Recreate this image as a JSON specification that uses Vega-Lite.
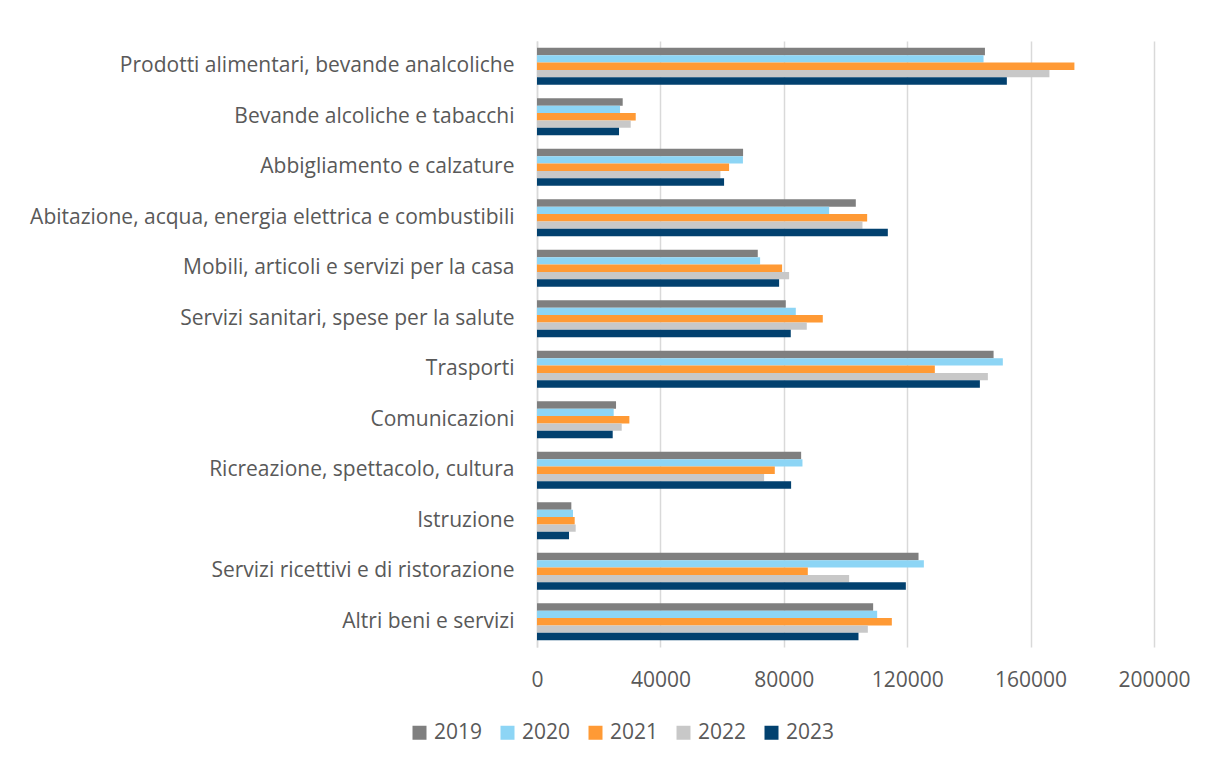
{
  "$schema": "https://vega.github.io/schema/vega-lite/v6.json",
  "autosize": {"type": "none"},
  "padding": {"left": 537, "top": 41, "right": 55, "bottom": 115},
  "width": 617,
  "height": 606,
  "background": "white",
  "config": {"view": {"stroke": null}, "font": "Open Sans"},
  "data": {"values": [
    {"cat": "Prodotti alimentari, bevande analcoliche", "year": "2019", "v": 145200},
    {"cat": "Prodotti alimentari, bevande analcoliche", "year": "2020", "v": 144750},
    {"cat": "Prodotti alimentari, bevande analcoliche", "year": "2021", "v": 174200},
    {"cat": "Prodotti alimentari, bevande analcoliche", "year": "2022", "v": 166100},
    {"cat": "Prodotti alimentari, bevande analcoliche", "year": "2023", "v": 152300},
    {"cat": "Bevande alcoliche e tabacchi ", "year": "2019", "v": 27780},
    {"cat": "Bevande alcoliche e tabacchi ", "year": "2020", "v": 26920},
    {"cat": "Bevande alcoliche e tabacchi ", "year": "2021", "v": 32000},
    {"cat": "Bevande alcoliche e tabacchi ", "year": "2022", "v": 30380},
    {"cat": "Bevande alcoliche e tabacchi ", "year": "2023", "v": 26590},
    {"cat": "Abbigliamento e calzature", "year": "2019", "v": 66800},
    {"cat": "Abbigliamento e calzature", "year": "2020", "v": 66750},
    {"cat": "Abbigliamento e calzature", "year": "2021", "v": 62270},
    {"cat": "Abbigliamento e calzature", "year": "2022", "v": 59460},
    {"cat": "Abbigliamento e calzature", "year": "2023", "v": 60640},
    {"cat": "Abitazione, acqua, energia elettrica e combustibili", "year": "2019", "v": 103340},
    {"cat": "Abitazione, acqua, energia elettrica e combustibili", "year": "2020", "v": 94700},
    {"cat": "Abitazione, acqua, energia elettrica e combustibili", "year": "2021", "v": 107020},
    {"cat": "Abitazione, acqua, energia elettrica e combustibili", "year": "2022", "v": 105500},
    {"cat": "Abitazione, acqua, energia elettrica e combustibili", "year": "2023", "v": 113720},
    {"cat": "Mobili, articoli e servizi per la casa", "year": "2019", "v": 71560},
    {"cat": "Mobili, articoli e servizi per la casa", "year": "2020", "v": 72320},
    {"cat": "Mobili, articoli e servizi per la casa", "year": "2021", "v": 79450},
    {"cat": "Mobili, articoli e servizi per la casa", "year": "2022", "v": 81720},
    {"cat": "Mobili, articoli e servizi per la casa", "year": "2023", "v": 78480},
    {"cat": "Servizi sanitari, spese per la salute", "year": "2019", "v": 80640},
    {"cat": "Servizi sanitari, spese per la salute", "year": "2020", "v": 83890},
    {"cat": "Servizi sanitari, spese per la salute", "year": "2021", "v": 92640},
    {"cat": "Servizi sanitari, spese per la salute", "year": "2022", "v": 87450},
    {"cat": "Servizi sanitari, spese per la salute", "year": "2023", "v": 82260},
    {"cat": "Trasporti", "year": "2019", "v": 148000},
    {"cat": "Trasporti", "year": "2020", "v": 151000},
    {"cat": "Trasporti", "year": "2021", "v": 128960},
    {"cat": "Trasporti", "year": "2022", "v": 146150},
    {"cat": "Trasporti", "year": "2023", "v": 143560},
    {"cat": "Comunicazioni", "year": "2019", "v": 25620},
    {"cat": "Comunicazioni", "year": "2020", "v": 24860},
    {"cat": "Comunicazioni", "year": "2021", "v": 29940},
    {"cat": "Comunicazioni", "year": "2022", "v": 27460},
    {"cat": "Comunicazioni", "year": "2023", "v": 24540},
    {"cat": "Ricreazione, spettacolo, cultura", "year": "2019", "v": 85620},
    {"cat": "Ricreazione, spettacolo, cultura", "year": "2020", "v": 86050},
    {"cat": "Ricreazione, spettacolo, cultura", "year": "2021", "v": 77080},
    {"cat": "Ricreazione, spettacolo, cultura", "year": "2022", "v": 73620},
    {"cat": "Ricreazione, spettacolo, cultura", "year": "2023", "v": 82370},
    {"cat": "Istruzione", "year": "2019", "v": 11130},
    {"cat": "Istruzione", "year": "2020", "v": 11670},
    {"cat": "Istruzione", "year": "2021", "v": 12220},
    {"cat": "Istruzione", "year": "2022", "v": 12540},
    {"cat": "Istruzione", "year": "2023", "v": 10380},
    {"cat": "Servizi ricettivi e di ristorazione", "year": "2019", "v": 123670},
    {"cat": "Servizi ricettivi e di ristorazione", "year": "2020", "v": 125400},
    {"cat": "Servizi ricettivi e di ristorazione", "year": "2021", "v": 87780},
    {"cat": "Servizi ricettivi e di ristorazione", "year": "2022", "v": 101180},
    {"cat": "Servizi ricettivi e di ristorazione", "year": "2023", "v": 119560},
    {"cat": "Altri beni e servizi", "year": "2019", "v": 108960},
    {"cat": "Altri beni e servizi", "year": "2020", "v": 110260},
    {"cat": "Altri beni e servizi", "year": "2021", "v": 115020},
    {"cat": "Altri beni e servizi", "year": "2022", "v": 107240},
    {"cat": "Altri beni e servizi", "year": "2023", "v": 104210}
  ]},
  "mark": {"type": "bar"},
  "encoding": {
    "y": {
      "field": "cat", "type": "nominal", "sort": null,
      "scale": {"paddingInner": 0.27, "paddingOuter": 0.135},
      "axis": {"title": null, "labelFontSize": 21, "labelColor": "#595959", "labelPadding": 23, "labelDy": 2, "ticks": false, "domainColor": "#d9d9d9", "domainWidth": 1.5, "labelLimit": 600}
    },
    "yOffset": {"field": "year", "type": "nominal", "sort": ["2019", "2020", "2021", "2022", "2023"]},
    "x": {
      "field": "v", "type": "quantitative",
      "scale": {"domain": [0, 200000], "nice": false},
      "axis": {"title": null, "values": [0, 40000, 80000, 120000, 160000, 200000], "format": "d", "labelFlush": false, "labelFontSize": 21, "labelColor": "#595959", "labelPadding": 22, "ticks": false, "domain": false, "gridColor": "#d9d9d9", "gridWidth": 1.5}
    },
    "color": {
      "field": "year", "type": "nominal",
      "scale": {"domain": ["2019", "2020", "2021", "2022", "2023"], "range": ["#7f7f7f", "#8dd5f5", "#ff9a35", "#c8c8c8", "#02416f"]},
      "legend": {"title": null, "orient": "none", "direction": "horizontal", "legendX": -128, "legendY": 681, "symbolType": "square", "symbolSize": 196, "symbolStrokeWidth": 0, "labelFontSize": 21, "labelColor": "#595959", "columnPadding": 14, "symbolOffset": 0, "labelOffset": 4}
    }
  }
}
